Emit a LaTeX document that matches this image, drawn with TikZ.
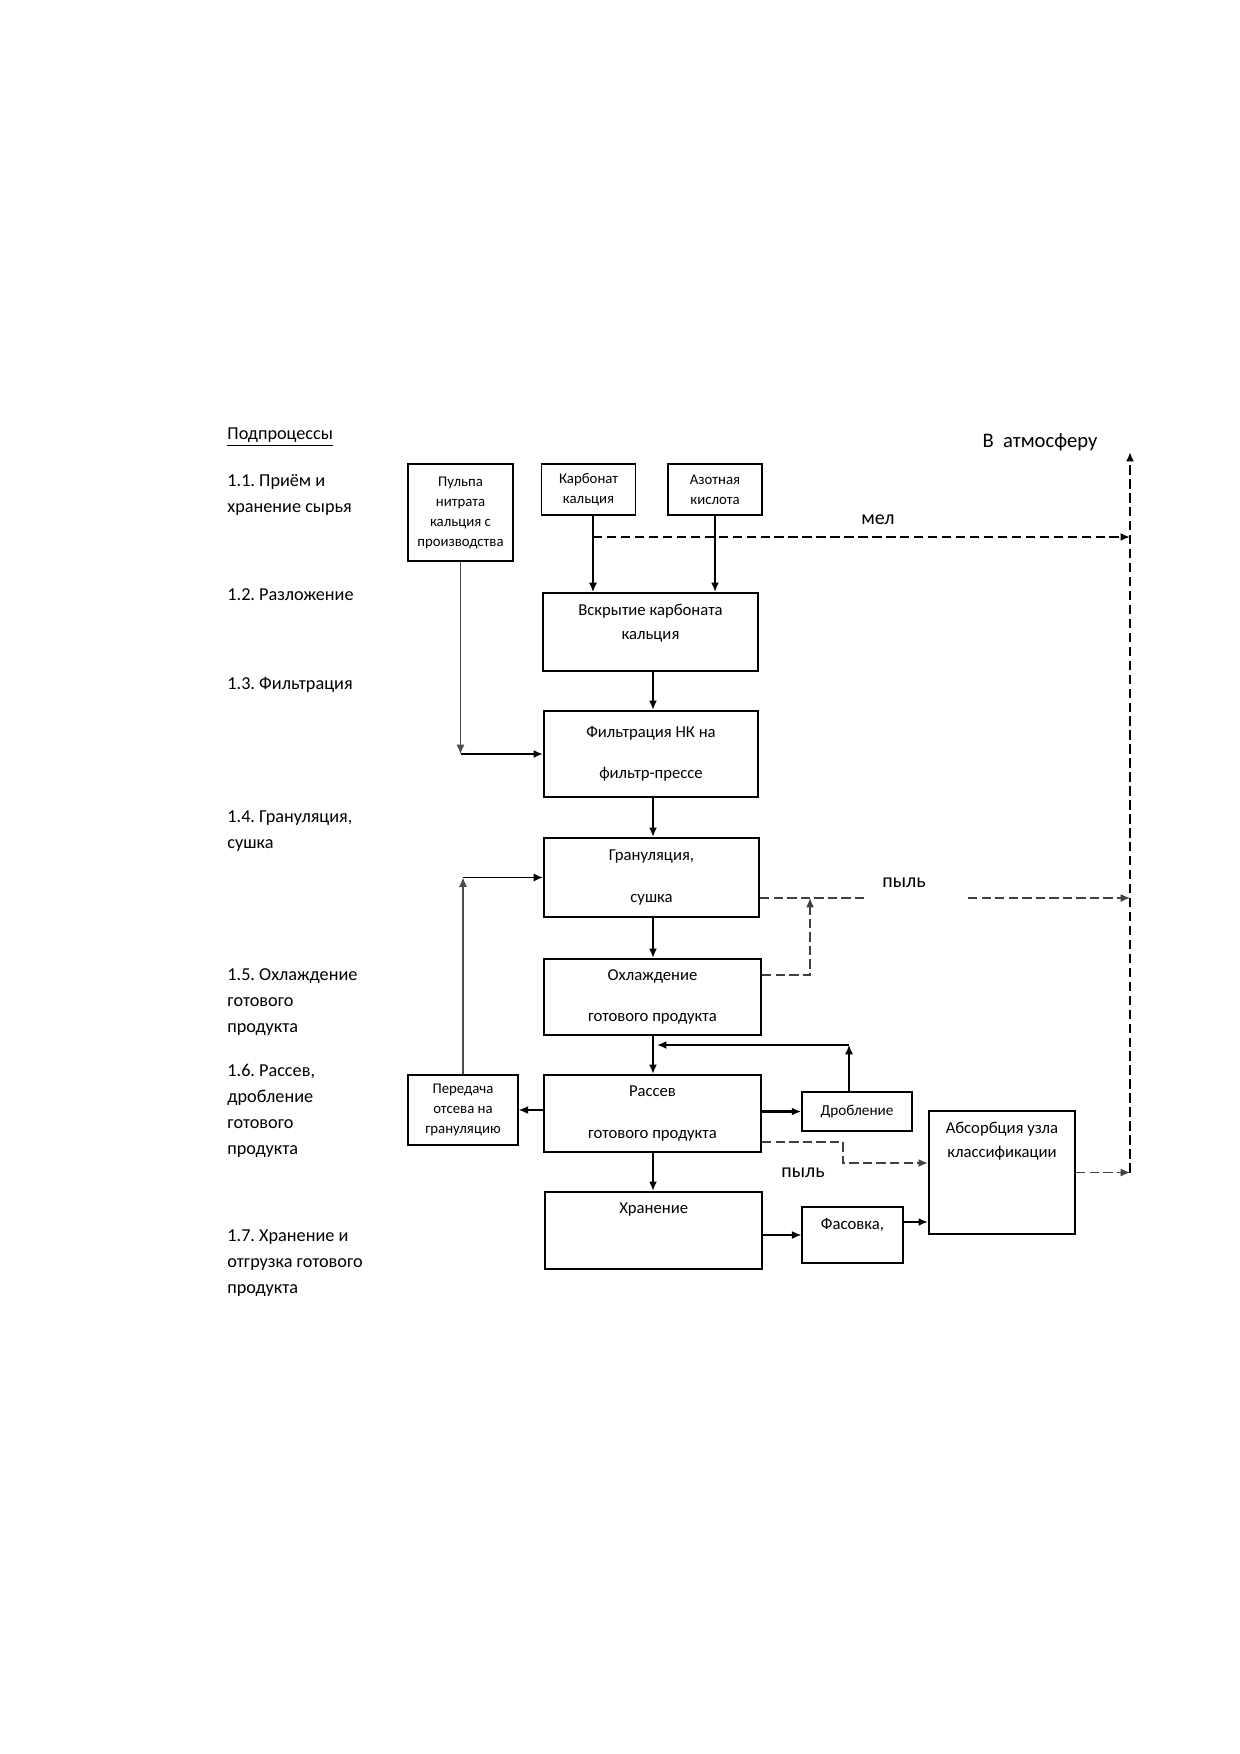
\documentclass[tikz,border=0pt]{standalone}
\usepackage{fontspec}
\setmainfont{Carlito}
\usetikzlibrary{arrows.meta}
\usetikzlibrary{positioning}
\usetikzlibrary{calc}
\frenchspacing
\newcommand{\pxu}{0.48pt}

\tikzset{
  box/.style={draw, line width=1pt, inner sep=0pt, align=center, font=\fontsize{8}{11.5}\selectfont},
  smallbox/.style={box, line width=0.8pt, font=\fontsize{7.1}{9.6}\selectfont},
  boxsize/.style 2 args={minimum width=#1*\pxu, minimum height=#2*\pxu},
  intext/.style={anchor=north, yshift=-5.5pt, align=center, inner sep=0pt, font=\fontsize{8}{11.8}\selectfont},
  side/.style={anchor=north west, align=left, inner sep=0pt, font=\fontsize{8.75}{12.5}\selectfont},
  note/.style={inner sep=0pt, font=\fontsize{9.6}{11}\selectfont},
  arr/.style={-{Latex[length=4.5pt,width=3.8pt]}},
  thinline/.style={line width=0.5pt},
  thickline/.style={line width=1.1pt},
  dust/.style={line width=0.6pt, black!75, dash pattern=on 4.5pt off 2pt},
  exhaust/.style={line width=1pt, dash pattern=on 4.5pt off 2.2pt}
}

\begin{document}
\begin{tikzpicture}[x=\pxu, y=-\pxu]
\useasboundingbox (0,0) rectangle (1240,1754);

% stages
\node[side] (sub) at (227,427) {\underline{Подпроцессы}};
\node[side] (s11) at (227,474) {1.1. Приём и\\хранение сырья};
\node[side] (s12) at (227,588) {1.2. Разложение};
\node[side] (s13) at (227,677) {1.3. Фильтрация};
\node[side] (s14) at (227,810) {1.4. Грануляция,\\сушка};
\node[side] (s15) at (227,968) {1.5. Охлаждение\\готового\\продукта};
\node[side] (s16) at (227,1064) {1.6. Рассев,\\дробление\\готового\\продукта};
\node[side] (s17) at (227,1229) {1.7. Хранение и\\отгрузка готового\\продукта};

% raw materials
\node[smallbox, boxsize={105}{97}] (pulpa) at (460.5,512.5) {Пульпа\\нитрата\\кальция с\\производства};
\node[smallbox, boxsize={94}{51}] (karb) at (588.6,489.5) {Карбонат\\кальция};
\node[smallbox, boxsize={94}{51}] (azot) at (715,489.5) {Азотная\\кислота};

% main line
\node[box, boxsize={215}{78}, label={[intext]north:Вскрытие карбоната\\кальция}] (vskr) at (650.5,632) {};
\node[box, boxsize={214}{86}] (filt) at (651,754) {Фильтрация НК на\\[8.2pt]фильтр-прессе};
\node[box, boxsize={215}{79}] (gran) at (651.5,877.5) {Грануляция,\\[8.2pt]сушка};
\node[box, boxsize={217}{76}] (cool) at (652.5,997) {Охлаждение\\[8.2pt]готового продукта};
\node[box, boxsize={217}{77}] (rassev) at (652.5,1113.5) {Рассев\\[8.2pt]готового продукта};
\node[box, boxsize={217}{77}, label={[intext]north:Хранение}] (khran) at (653.7,1230.5) {};

% side boxes
\node[smallbox, boxsize={110}{70}] (pered) at (463,1110) {Передача\\отсева на\\грануляцию};
\node[box, line width=0.8pt, boxsize={110}{39}, font=\fontsize{7.3}{9}\selectfont] (drob) at (857,1111.5) {Дробление};
\node[box, line width=0.8pt, boxsize={101}{56}, label={[intext]north:Фасовка,}] (fas) at (852.5,1235) {};
\node[box, boxsize={146}{123}, label={[intext]north:Абсорбция узла\\классификации}] (absorb) at (1002,1172.5) {};

% labels
\node[note] (mel) at (878,520) {мел};
\node[note] (dust1) at (904,883) {пыль};
\node[note] (dust2) at (803,1173) {пыль};
\node[note, font=\fontsize{9.9}{11}\selectfont] (atm) at (1040,442) {В~~атмосферу};

\coordinate (axis) at (653,0);
\coordinate (atmtop) at (1130,452);
\coordinate (atmbot) at (1130,1172.5);

% feed
\coordinate (melstart) at (593,537);
\draw[thinline, arr] (karb.south -| melstart) -- (vskr.north -| melstart);
\draw[thickline, arr] (azot.south) -- (azot.south |- vskr.north);
\draw[exhaust, arr] (melstart) -- (atmtop |- melstart);
\draw[thinline, black!70, arr] (pulpa.south) -- (pulpa.south |- filt.west);
\draw[thickline, arr] (pulpa.south |- filt.west) -- (filt.west);

% main chain
\draw[thickline, arr] (vskr.south -| axis) -- (filt.north -| axis);
\draw[thickline, arr] (filt.south -| axis) -- (gran.north -| axis);
\draw[thickline, arr] (gran.south -| axis) -- (cool.north -| axis);
\draw[thickline, arr] (cool.south -| axis) -- (rassev.north -| axis);
\draw[thickline, arr] (rassev.south -| axis) -- (khran.north -| axis);

% dust from granulation and cooling
\coordinate (gdust) at (810,898);
\coordinate (gapL) at (868,898);
\coordinate (gapR) at (968,898);
\draw[dust] (gran.east |- gdust) -- (gapL);
\draw[dust, arr] (gapR) -- (atmtop |- gapR);
\draw[dust, arr] (cool.east |- 0,975) -| (gdust);

% screening
\draw[thinline, arr] (rassev.west |- pered.east) -- (pered.east);
\draw[thinline, black!70, arr] (pered.north) -- (pered.north |- gran.west);
\draw[thinline, arr] (pered.north |- gran.west) -- (gran.west);
\draw[thickline, arr] (rassev.east |- drob.west) -- (drob.west);
\coordinate (ret) at (849,1045);
\draw[thinline, arr] (drob.north -| ret) -- (ret);
\draw[thickline, arr] (ret) -- ($(axis |- ret)+(4,0)$);
\coordinate (rdust) at (843,1163);
\draw[dust, line width=0.9pt, arr] (rassev.east |- 0,1142) -| (rdust) -- (absorb.west |- rdust);

% storage and absorption
\draw[thinline, arr] (khran.east |- fas.west) -- (fas.west);
\draw[thickline, arr] (fas.east |- 0,1222) -- (absorb.west |- 0,1222);
\draw[dust, arr] (absorb.east) -- (atmbot);
\draw[exhaust, arr] (atmbot) -- (atmtop);
\end{tikzpicture}
\end{document}
